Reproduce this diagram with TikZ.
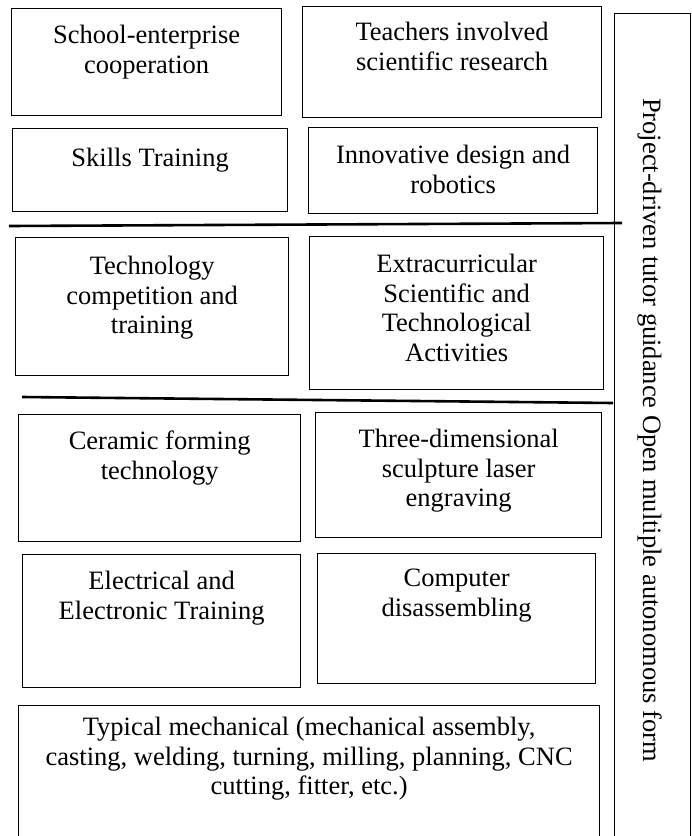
\documentclass[tikz,border=0pt]{standalone}
\usepackage{fontspec}
\setmainfont{Liberation Serif}
\usetikzlibrary{positioning}

\tikzset{
  cell/.style={draw, line width=1.3pt, anchor=north west, inner sep=0pt},
  celltext/.style={align=center, inner sep=0pt, font=\fontsize{26.5}{29.5}\selectfont},
  divider/.style={line width=2.6pt},
}

\begin{document}
\begin{tikzpicture}[x=1pt,y=-1pt]
  \useasboundingbox (0,0) rectangle (692,836);
  \clip (0,0) rectangle (692,836);
  % upper level
  \node[cell, minimum width=270pt, minimum height=107pt] (coop) at (11,8) {};
  \node[cell, minimum width=299pt, minimum height=111pt] (research) at (302,6) {};
  \node[cell, minimum width=275pt, minimum height=83pt] (skills) at (12,128) {};
  \node[cell, minimum width=289pt, minimum height=86pt] (robot) at (308,127) {};
  \node[celltext, below=17pt of coop.north] (cooptext) {School-enterprise\\cooperation};
  \node[celltext, below=16pt of research.north] (researchtext) {Teachers involved\\scientific research};
  \node[celltext, below=20pt of skills.north] (skillstext) {Skills Training};
  \node[celltext, below=18pt of robot.north] (robottext) {Innovative design and\\robotics};
  \draw[divider] (9,226) -- (622,223);
  % middle level
  \node[cell, minimum width=273pt, minimum height=138pt] (contest) at (15,237) {};
  \node[cell, minimum width=294pt, minimum height=153pt] (activity) at (309,236) {};
  \node[celltext, below=19pt of contest.north] (contesttext) {Technology\\competition and\\training};
  \node[celltext, below=18pt of activity.north] (activitytext) {Extracurricular\\Scientific and\\Technological\\Activities};
  \draw[divider] (22,397) -- (613,403);
  % lower level
  \node[cell, minimum width=282pt, minimum height=127pt] (ceramic) at (18,414) {};
  \node[cell, minimum width=286pt, minimum height=125pt] (laser) at (315,412) {};
  \node[cell, minimum width=278pt, minimum height=133pt] (electric) at (22,554) {};
  \node[cell, minimum width=278pt, minimum height=130pt] (computer) at (317,553) {};
  \node[cell, minimum width=581pt, minimum height=145pt] (mech) at (18,705) {};
  \node[celltext, below=17pt of ceramic.north] (ceramictext) {Ceramic forming\\technology};
  \node[celltext, below=17pt of laser.north] (lasertext) {Three-dimensional\\sculpture laser\\engraving};
  \node[celltext, below=17pt of electric.north] (electrictext) {Electrical and\\Electronic Training};
  \node[celltext, below=16pt of computer.north] (computertext) {Computer\\disassembling};
  \node[celltext, below=12pt of mech.north] (mechtext) {Typical mechanical (mechanical assembly,\\casting, welding, turning, milling, planning, CNC\\cutting, fitter, etc.)};
  % side column
  \node[cell, minimum width=76pt, minimum height=840pt] (guide) at (614,13) {};
  \node[celltext, rotate=-90, anchor=base] (guidetext) at (643,430) {Project-driven tutor guidance Open multiple autonomous form};
\end{tikzpicture}
\end{document}
